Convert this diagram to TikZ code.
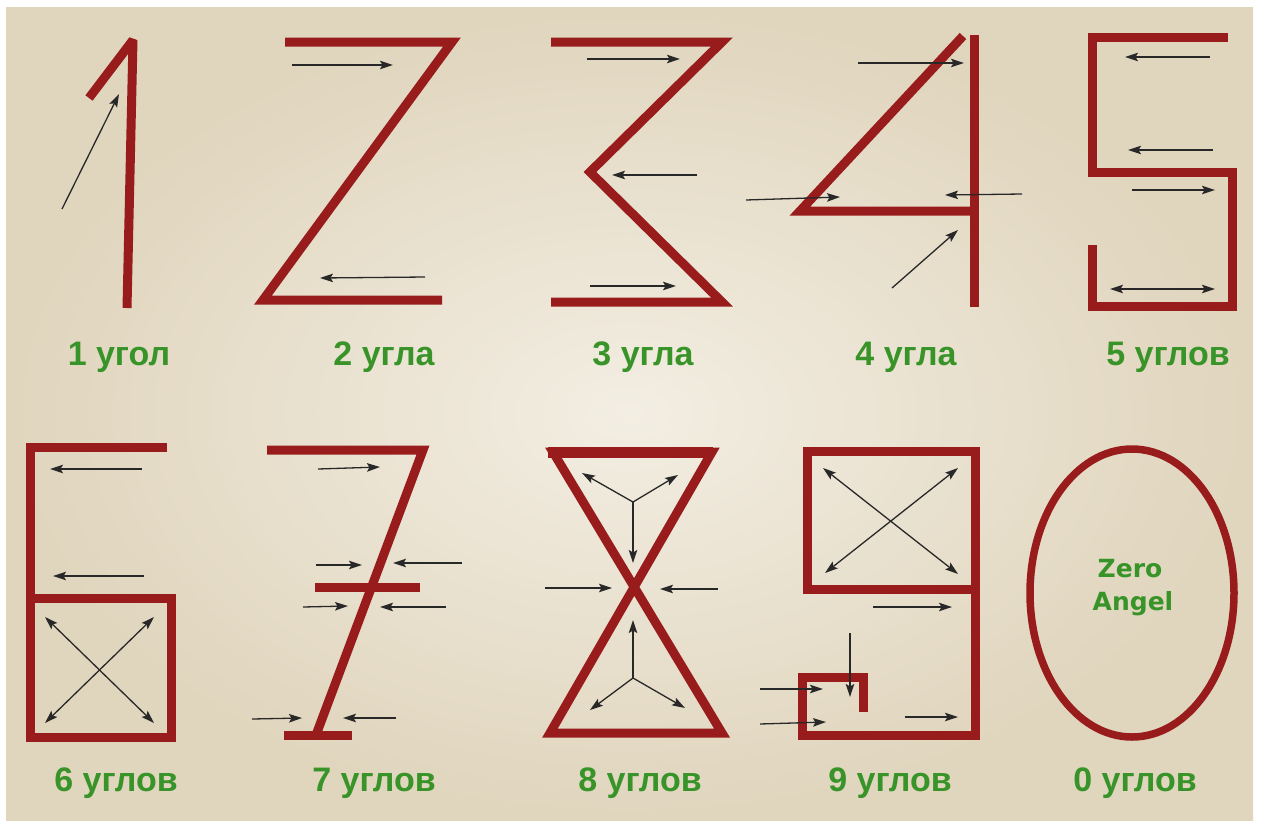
\documentclass[tikz,border=0pt]{standalone}
\usepackage{fontspec}
\setmainfont{Liberation Sans}
\newfontfamily\zerofont{DejaVu Sans}
\usetikzlibrary{arrows.meta}
\definecolor{dred}{RGB}{152,28,28}
\definecolor{lgreen}{RGB}{56,148,40}
\definecolor{arrc}{RGB}{40,40,40}
\definecolor{bgin}{RGB}{243,238,227}
\definecolor{bgout}{RGB}{224,213,189}
\begin{document}
\begin{tikzpicture}[x=1pt,y=-1pt,
  digit/.style={draw=dred, line width=9pt, line cap=butt, line join=miter, miter limit=3},
  tip/.tip={Stealth[length=13pt,width=8.5pt,inset=2.5pt]},
  arr/.style={draw=arrc, line width=1.3pt, -tip},
  darr/.style={draw=arrc, line width=1.3pt, tip-tip},
  lab/.style={text=lgreen, font=\fontsize{34}{40}\selectfont\bfseries, anchor=base, inner sep=0pt},
  zlab/.style={text=lgreen, font=\zerofont\fontsize{25}{30}\selectfont\bfseries, anchor=base, inner sep=0pt}]
\useasboundingbox (0,0) rectangle (1264,820);
\fill[white] (0,0) rectangle (1264,820);
\shade[inner color=bgin, outer color=bgout] (6,7) rectangle (1253,820);

% 1
\draw[digit] (89,98) -- (133,40) -- (127,308);
\draw[arr] (62,209) -- (119,94);
% 2
\draw[digit] (285,42) -- (452,42) -- (263,300) -- (442,300);
\draw[arr] (292,65) -- (393,65);
\draw[arr] (425,277) -- (320,278);
% 3
\draw[digit] (551,42) -- (722,42) -- (590,172) -- (722,302) -- (551,302);
\draw[arr] (587,59) -- (680,59);
\draw[arr] (697,175) -- (612,175);
\draw[arr] (590,286) -- (676,286);
% 4
\draw[digit] (963,36) -- (800,211) -- (974,211);
\draw[digit] (974,35) -- (974,307);
\draw[arr] (858,63) -- (964,63);
\draw[arr] (746,200) -- (840,197);
\draw[arr] (1022,194) -- (945,195);
\draw[arr] (892,288) -- (958,230);
% 5
\draw[digit] (1228,37) -- (1092,37) -- (1092,172) -- (1232,172) -- (1232,306) -- (1092,306) -- (1092,245);
\draw[arr] (1210,57) -- (1125,57);
\draw[arr] (1213,150) -- (1128,150);
\draw[arr] (1132,190) -- (1215,190);
\draw[darr] (1110,289) -- (1215,289);

% 6
\draw[digit] (167,447) -- (30,447) -- (30,737) -- (171,737) -- (171,598) -- (30,598);
\draw[arr] (142,469) -- (50,469);
\draw[arr] (144,576) -- (53,576);
\draw[darr] (45,617) -- (154,723);
\draw[darr] (154,617) -- (45,723);
% 7
\draw[digit] (267,450) -- (423,450) -- (316,735);
\draw[digit] (284,735) -- (352,735);
\draw[digit] (315,587) -- (420,587);
\draw[arr] (318,469) -- (380,467);
\draw[arr] (316,565) -- (362,565);
\draw[arr] (462,563) -- (393,563);
\draw[arr] (303,607) -- (348,606);
\draw[arr] (446,607) -- (380,607);
\draw[arr] (252,719) -- (302,718);
\draw[arr] (396,718) -- (343,718);
% 8
\draw[digit] (712,452) -- (550,733) -- (722,733) -- (553,452) -- cycle;
\draw[dred, line width=11pt] (548,452) -- (713,452);
\coordinate (y1) at (633,502);
\draw[arr] (y1) -- (582,473);
\draw[arr] (y1) -- (678,475);
\draw[arr] (y1) -- (633,563);
\draw[arr] (545,588) -- (612,588);
\draw[arr] (718,589) -- (660,589);
\coordinate (y2) at (633,678);
\draw[arr] (y2) -- (633,620);
\draw[arr] (y2) -- (590,710);
\draw[arr] (y2) -- (685,708);
% 9
\draw[digit] (975,589) -- (807,589) -- (807,451) -- (975,451) -- (975,735) -- (802,735) -- (802,677) -- (863,677) -- (863,712);
\draw[darr] (823,468) -- (958,574);
\draw[darr] (958,468) -- (825,573);
\draw[arr] (873,607) -- (952,607);
\draw[arr] (905,717) -- (958,717);
\draw[arr] (850,633) -- (850,697);
\draw[arr] (760,689) -- (823,689);
\draw[arr] (760,724) -- (826,722);
% 0
\draw[dred, line width=7.5pt] (1132,593) ellipse [x radius=102, y radius=144];
\node[zlab] (zero) at (1130,577) {Zero};
\node[zlab] (angel) at (1133,610) {Angel};

% labels
\node[lab] (l1) at (119,365) {1 угол};
\node[lab] (l2) at (384,365) {2 угла};
\node[lab] (l3) at (643,365) {3 угла};
\node[lab] (l4) at (906,365) {4 угла};
\node[lab] (l5) at (1168,365) {5 углов};
\node[lab] (l6) at (116,791) {6 углов};
\node[lab] (l7) at (374,791) {7 углов};
\node[lab] (l8) at (640,791) {8 углов};
\node[lab] (l9) at (890,791) {9 углов};
\node[lab] (l0) at (1135,791) {0 углов};
\end{tikzpicture}
\end{document}
